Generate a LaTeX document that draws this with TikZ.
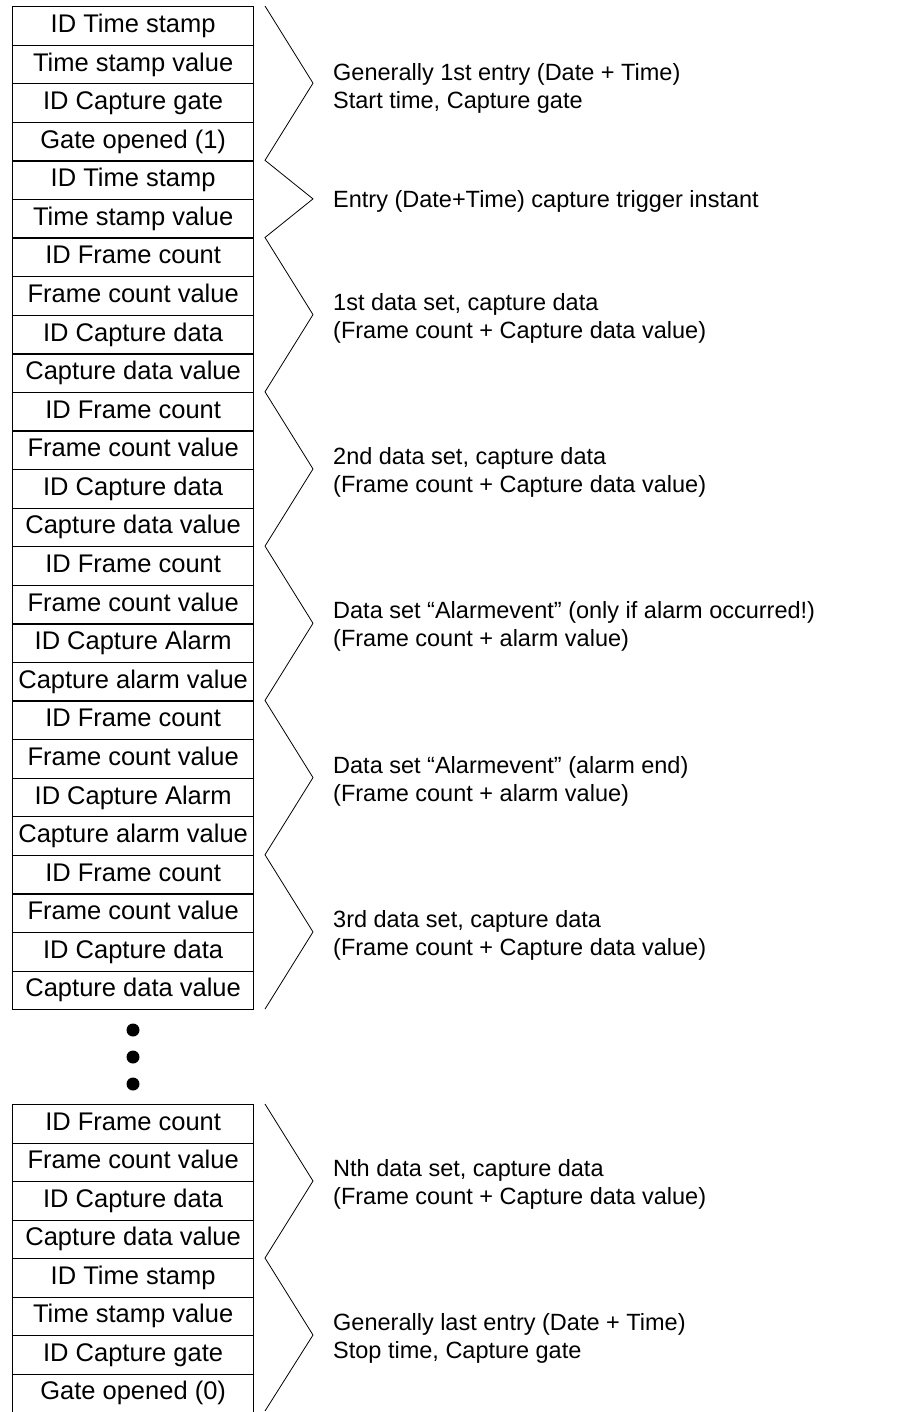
\documentclass[tikz,border=0pt]{standalone}
\usepackage{fontspec}
\setmainfont{Liberation Sans}
\begin{document}
\begin{tikzpicture}[x=1pt,y=-1pt,
  row/.style={draw, line width=1.3pt, minimum width=241pt, minimum height=38.58pt, inner sep=0pt, text height=18.5pt, text depth=5.5pt, anchor=north west, font=\fontsize{25.5}{28}\selectfont},
  rowb/.style={row, minimum height=38.5pt},
  note/.style={anchor=west, inner sep=0pt, align=left, font=\fontsize{23.5}{28}\selectfont},
  zig/.style={line width=0.8pt, line join=miter},
  dot/.style={circle, fill=black, minimum size=13pt, inner sep=0pt}]
\useasboundingbox (0,0) rectangle (896,1412);
% top block
\foreach \t [count=\i from 0] in {ID Time stamp, Time stamp value, ID Capture gate, Gate opened (1), ID Time stamp, Time stamp value, ID Frame count, Frame count value, ID Capture data, Capture data value, ID Frame count, Frame count value, ID Capture data, Capture data value, ID Frame count, Frame count value, ID Capture Alarm, Capture alarm value, ID Frame count, Frame count value, ID Capture Alarm, Capture alarm value, ID Frame count, Frame count value, ID Capture data, Capture data value}
  \node[row] (t\i) at (12,{6+\i*38.58}) {\t};
% bottom block
\foreach \t [count=\i from 0] in {ID Frame count, Frame count value, ID Capture data, Capture data value, ID Time stamp, Time stamp value, ID Capture gate, Gate opened (0)}
  \node[rowb] (b\i) at (12,{1104+\i*38.5}) {\t};
% dots
\node[dot] (d1) at (133,1030) {};
\node[dot] (d2) at (133,1057) {};
\node[dot] (d3) at (133,1084) {};
% zigzag braces
\draw[zig] (265,6) -- (313,83.16) -- (265,160.32) -- (313,198.9) -- (265,237.48)
  -- (313,314.64) -- (265,391.8) -- (313,468.96) -- (265,546.12)
  -- (313,623.28) -- (265,700.44) -- (313,777.6) -- (265,854.76)
  -- (313,931.92) -- (265,1009.08);
\draw[zig] (265,1104) -- (313,1181) -- (265,1258) -- (313,1335) -- (265,1411);
% labels
\node[note] (g1) at (333,88) {Generally 1st entry (Date + Time)\\Start time, Capture gate};
\node[note] (g2) at (333,201) {Entry (Date+Time) capture trigger instant};
\node[note] (g3) at (333,318) {1st data set, capture data\\(Frame count + Capture data value)};
\node[note] (g4) at (333,472) {2nd data set, capture data\\(Frame count + Capture data value)};
\node[note] (g5) at (333,626) {Data set “Alarmevent” (only if alarm occurred!)\\(Frame count + alarm value)};
\node[note] (g6) at (333,781) {Data set “Alarmevent” (alarm end)\\(Frame count + alarm value)};
\node[note] (g7) at (333,935) {3rd data set, capture data\\(Frame count + Capture data value)};
\node[note] (h1) at (333,1184) {Nth data set, capture data\\(Frame count + Capture data value)};
\node[note] (h2) at (333,1338) {Generally last entry (Date + Time)\\Stop time, Capture gate};
\end{tikzpicture}
\end{document}
